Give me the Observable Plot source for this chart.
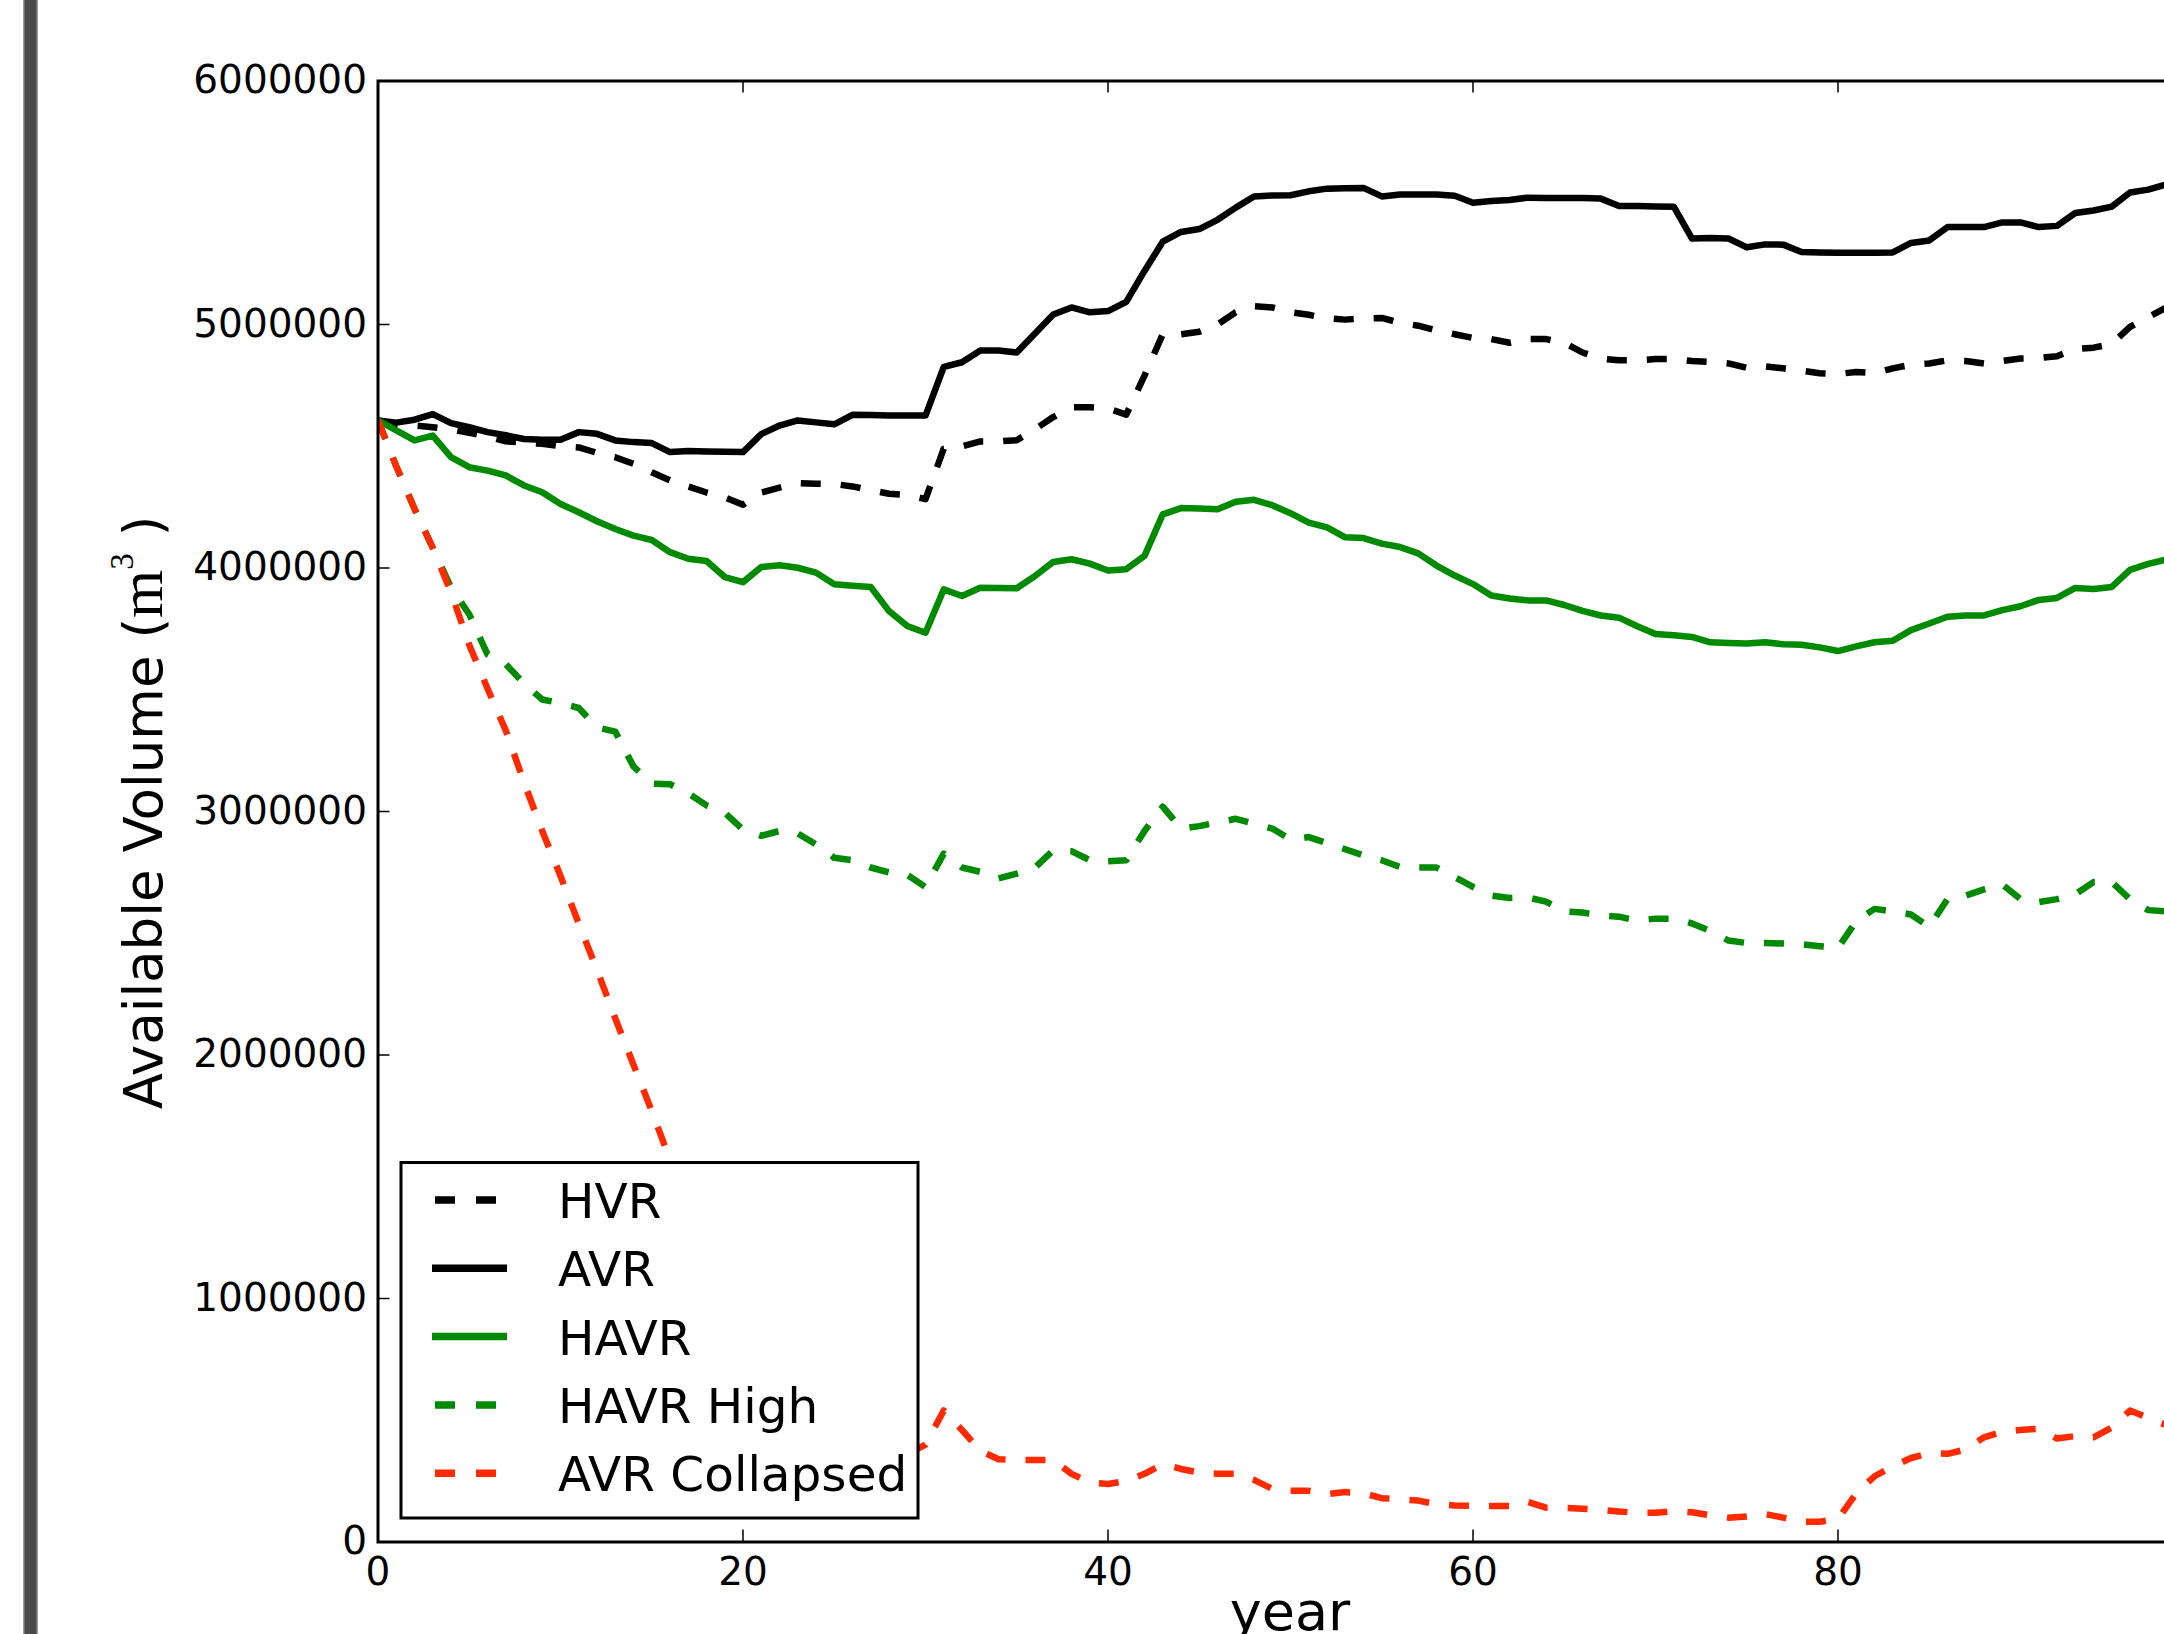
<!DOCTYPE html>
<html>
<head>
<meta charset="utf-8">
<script src="https://cdn.jsdelivr.net/npm/d3@7"></script>
<script src="https://cdn.jsdelivr.net/npm/@observablehq/plot@0.6"></script>
<style>
  html, body { margin: 0; padding: 0; width: 2164px; height: 1634px; overflow: hidden; background: #fff; }
  #chart { position: absolute; left: 0; top: 0; width: 2300px; height: 1700px; }
  #bar { position: absolute; left: 23px; top: 0; width: 15px; height: 1634px; background: #4a4a4a;
         box-shadow: inset 1.5px 0 0 #9a9a9a, inset -1.5px 0 0 #9a9a9a; }
</style>
</head>
<body>
<div id="bar"></div>
<div id="chart"></div>
<script>
// ---------------- data (values in millions of m^3, one value per year 0..98) ----------------
const seriesNames = ["HVR", "AVR", "HAVR", "HAVR High", "AVR Collapsed"];

const hvr = [
  4.606,4.59,4.585,4.578,4.57,4.555,4.54,4.52,4.515,4.51,
  4.50,4.495,4.473,4.455,4.428,4.393,4.36,4.335,4.31,4.29,
  4.26,4.31,4.33,4.349,4.346,4.345,4.335,4.32,4.305,4.30,
  4.283,4.49,4.50,4.52,4.52,4.525,4.57,4.62,4.66,4.66,
  4.655,4.63,4.79,4.96,4.96,4.97,5.0,5.05,5.075,5.07,
  5.05,5.04,5.025,5.02,5.025,5.027,5.007,4.995,4.975,4.96,
  4.945,4.94,4.925,4.94,4.94,4.925,4.885,4.86,4.853,4.853,
  4.858,4.858,4.85,4.846,4.84,4.822,4.828,4.82,4.81,4.80,
  4.797,4.805,4.80,4.82,4.835,4.84,4.853,4.85,4.84,4.85,
  4.86,4.862,4.87,4.9,4.905,4.92,4.99,5.03,5.07
];
const avr = [
  4.606,4.597,4.609,4.632,4.595,4.578,4.558,4.545,4.53,4.527,
  4.527,4.558,4.551,4.524,4.517,4.513,4.476,4.48,4.478,4.477,
  4.476,4.55,4.585,4.606,4.598,4.59,4.629,4.628,4.626,4.626,
  4.626,4.826,4.845,4.893,4.893,4.885,4.963,5.041,5.07,5.05,
  5.055,5.093,5.22,5.34,5.38,5.392,5.43,5.48,5.526,5.53,
  5.531,5.547,5.558,5.56,5.561,5.526,5.534,5.534,5.534,5.529,
  5.50,5.507,5.511,5.521,5.52,5.52,5.52,5.517,5.487,5.487,
  5.485,5.484,5.353,5.355,5.353,5.317,5.329,5.328,5.298,5.296,
  5.295,5.295,5.295,5.296,5.335,5.345,5.40,5.40,5.40,5.419,
  5.419,5.40,5.405,5.458,5.468,5.484,5.542,5.554,5.575
];
const havr = [
  4.606,4.565,4.524,4.544,4.455,4.414,4.40,4.38,4.339,4.311,
  4.263,4.229,4.192,4.16,4.133,4.115,4.065,4.038,4.029,3.963,
  3.942,4.004,4.011,4.001,3.981,3.933,3.927,3.922,3.823,3.762,
  3.734,3.912,3.885,3.919,3.918,3.917,3.967,4.025,4.036,4.018,
  3.99,3.995,4.05,4.22,4.246,4.244,4.241,4.272,4.28,4.258,
  4.225,4.186,4.167,4.126,4.123,4.10,4.086,4.06,4.01,3.969,
  3.934,3.887,3.875,3.867,3.867,3.848,3.824,3.805,3.796,3.761,
  3.729,3.724,3.717,3.695,3.692,3.69,3.695,3.687,3.685,3.674,
  3.659,3.678,3.695,3.701,3.745,3.772,3.80,3.805,3.805,3.827,
  3.843,3.869,3.877,3.918,3.914,3.922,3.992,4.017,4.035
];
const havrHigh = [
  4.606,4.418,4.243,4.083,3.92,3.81,3.645,3.605,3.525,3.46,
  3.445,3.425,3.345,3.328,3.185,3.114,3.112,3.075,3.025,2.995,
  2.925,2.90,2.92,2.91,2.865,2.81,2.80,2.77,2.75,2.74,
  2.69,2.827,2.77,2.752,2.725,2.745,2.77,2.84,2.837,2.80,
  2.796,2.80,2.92,3.02,2.93,2.94,2.955,2.97,2.95,2.93,
  2.885,2.895,2.87,2.845,2.82,2.80,2.772,2.77,2.77,2.73,
  2.69,2.655,2.645,2.647,2.63,2.59,2.585,2.573,2.568,2.552,
  2.56,2.56,2.54,2.51,2.47,2.46,2.46,2.458,2.455,2.447,
  2.44,2.55,2.60,2.59,2.577,2.526,2.64,2.655,2.68,2.70,
  2.64,2.628,2.64,2.66,2.71,2.71,2.64,2.595,2.59
];
const avrCollapsed = [
  4.606,4.418,4.243,4.083,3.90,3.684,3.505,3.333,3.12,2.92,
  2.735,2.54,2.35,2.15,1.96,1.77,1.57,1.38,1.19,1.0,
  0.82,0.64,0.47,0.33,0.28,0.30,0.30,0.32,0.33,0.36,
  0.40,0.54,0.46,0.375,0.34,0.337,0.337,0.337,0.28,0.245,
  0.238,0.25,0.28,0.32,0.30,0.285,0.28,0.28,0.255,0.218,
  0.21,0.21,0.197,0.205,0.20,0.18,0.176,0.17,0.155,0.15,
  0.148,0.148,0.148,0.165,0.141,0.14,0.137,0.132,0.125,0.12,
  0.12,0.126,0.122,0.11,0.10,0.105,0.115,0.10,0.083,0.083,
  0.095,0.20,0.27,0.31,0.345,0.365,0.362,0.38,0.43,0.452,
  0.46,0.465,0.425,0.435,0.43,0.47,0.54,0.51,0.48
];
const seriesValues = [hvr, avr, havr, havrHigh, avrCollapsed];

const xTicks = [0, 20, 40, 60, 80];
const yTicks = [0, 1000000, 2000000, 3000000, 4000000, 5000000, 6000000];
const xLabel = "year";
const yLabelParts = ["Available Volume (", "m", "3", " )"];

// ---------------- styles / layout ----------------
const GREEN = "#008a00", RED = "#ff2a00";
const seriesStyle = {
  "HVR":           {stroke: "black", dash: "20,20"},
  "AVR":           {stroke: "black", dash: null},
  "HAVR":          {stroke: GREEN,  dash: null},
  "HAVR High":     {stroke: GREEN,  dash: "20,20"},
  "AVR Collapsed": {stroke: RED,    dash: "20,20"}
};
const W = 2300, H = 1700;
const ML = 377.5, MR = W - 2202.5, MT = 80.5, MB = H - 1541.5;
const PW = W - ML - MR, PH = H - MT - MB;
const TICK = 12, LW = 6.5;

const rowsBySeries = seriesNames.map((name, k) =>
  seriesValues[k].map((v, i) => ({series: name, year: i, value: v * 1e6}))
);

const lineMarks = seriesNames.map((name, k) => Plot.line(rowsBySeries[k], {
  x: "year", y: "value",
  stroke: seriesStyle[name].stroke,
  strokeWidth: LW,
  strokeDasharray: seriesStyle[name].dash || undefined,
  strokeLinejoin: "round",
  strokeLinecap: "butt",
  clip: true
}));

const chart = Plot.plot({
  width: W, height: H,
  marginLeft: ML, marginRight: MR, marginTop: MT, marginBottom: MB,
  style: {fontFamily: "'DejaVu Sans', sans-serif", fontSize: "39px", color: "black",
          background: "transparent", maxWidth: "none", overflow: "visible"},
  x: {domain: [0, 100], ticks: xTicks, tickSize: 0, tickPadding: 15, label: null, tickFormat: d => String(d)},
  y: {domain: [0, 6000000], ticks: yTicks, tickSize: 0, tickPadding: 11, label: null, tickFormat: d => String(d)},
  marks: [
    ...lineMarks,
    // inward ticks on all four sides
    Plot.ruleY(yTicks, {y: d => d, insetRight: PW - TICK, stroke: "black", strokeWidth: 1.5}),
    Plot.ruleY(yTicks, {y: d => d, insetLeft: PW - TICK, stroke: "black", strokeWidth: 1.5}),
    Plot.ruleX(xTicks, {x: d => d, insetTop: PH - TICK, stroke: "black", strokeWidth: 1.5}),
    Plot.ruleX(xTicks, {x: d => d, insetBottom: PH - TICK, stroke: "black", strokeWidth: 1.5}),
    Plot.frame({stroke: "black", strokeWidth: 3})
  ]
});
document.getElementById("chart").appendChild(chart);

const svg = d3.select(chart);

// x axis label
svg.append("text")
  .attr("x", ML + PW / 2).attr("y", 1630)
  .attr("text-anchor", "middle")
  .attr("font-family", "'DejaVu Sans', sans-serif")
  .attr("font-size", 54)
  .attr("fill", "black")
  .text(xLabel);

// y axis label (sans text, serif math "m^3")
const yl = svg.append("text")
  .attr("transform", "translate(161.7,812.5) rotate(-90)")
  .attr("text-anchor", "middle")
  .attr("font-family", "'DejaVu Sans', sans-serif")
  .attr("font-size", 53)
  .attr("fill", "black")
  .style("white-space", "pre");
yl.append("tspan").text(yLabelParts[0]);
yl.append("tspan").attr("font-family", "'Liberation Serif', serif").attr("font-size", 62).text(yLabelParts[1]);
yl.append("tspan").attr("font-family", "'Liberation Serif', serif").attr("font-size", 33).attr("dy", -29).text(yLabelParts[2]);
yl.append("tspan").attr("dy", 29).text(yLabelParts[3]);

// legend box
const lg = svg.append("g")
  .attr("font-family", "'DejaVu Sans', sans-serif")
  .attr("font-size", 48.5)
  .attr("text-anchor", "start");
lg.append("rect")
  .attr("x", 401).attr("y", 1162.5).attr("width", 517).attr("height", 355.5)
  .attr("fill", "white").attr("stroke", "black").attr("stroke-width", 3);
seriesNames.forEach((name, i) => {
  const cy = 1200 + i * 68.3;
  const st = seriesStyle[name];
  lg.append("line")
    .attr("x1", st.dash ? 435 : 432).attr("x2", st.dash ? 496 : 507)
    .attr("y1", cy).attr("y2", cy)
    .attr("stroke", st.stroke).attr("stroke-width", 7.5)
    .attr("stroke-dasharray", st.dash ? "20,21" : null);
  lg.append("text")
    .attr("x", 558).attr("y", cy + 18)
    .attr("text-anchor", "start")
    .attr("fill", "black")
    .text(name);
});
</script>
</body>
</html>
